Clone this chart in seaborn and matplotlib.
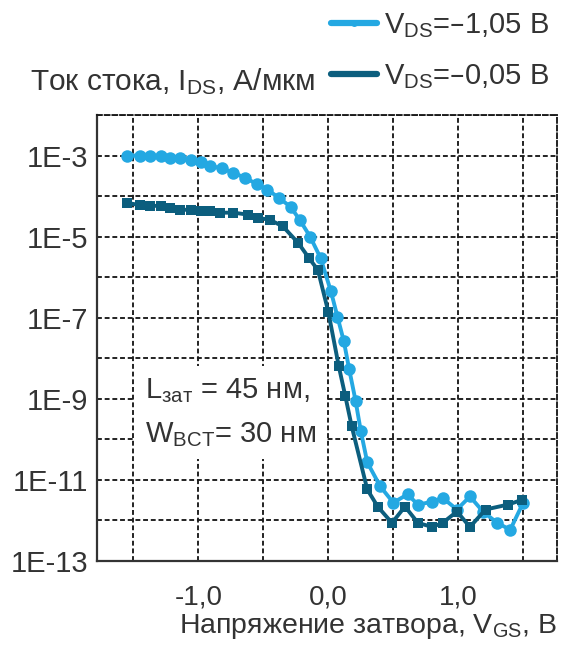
import matplotlib
matplotlib.use('Agg')
import matplotlib.pyplot as plt
import seaborn as sns
import pandas as pd

# V_DS = -1,05 V (circles)
vgs_hi = [-1.55, -1.45, -1.37, -1.29, -1.22, -1.14, -1.06, -0.98, -0.91, -0.82,
          -0.73, -0.64, -0.55, -0.47, -0.38, -0.29, -0.22, -0.14, -0.06, 0.02,
          0.07, 0.12, 0.16, 0.21, 0.25, 0.30, 0.40, 0.50, 0.61, 0.69,
          0.80, 0.88, 0.99, 1.09, 1.19, 1.30, 1.40, 1.50]
ids_hi = [1.0e-3, 1.0e-3, 9.5e-4, 9.5e-4, 8.9e-4, 8.5e-4, 7.6e-4, 6.8e-4, 5.6e-4, 4.8e-4,
          3.8e-4, 2.8e-4, 2.0e-4, 1.45e-4, 9.1e-5, 5.4e-5, 2.6e-5, 1.0e-5, 3.0e-6, 4.5e-7,
          1.07e-7, 2.6e-8, 5.5e-9, 8.9e-10, 1.6e-10, 2.7e-11, 6.9e-12, 2.75e-12, 4.4e-12, 2.45e-12,
          2.9e-12, 3.6e-12, 1.86e-12, 3.9e-12, 1.66e-12, 8.7e-13, 5.9e-13, 2.75e-12]

# V_DS = -0,05 V (squares)
vgs_lo = [-1.55, -1.45, -1.37, -1.29, -1.22, -1.14, -1.06, -0.98, -0.91, -0.83,
          -0.73, -0.62, -0.54, -0.45, -0.35, -0.23, -0.15, -0.08, 0.00, 0.08,
          0.13, 0.18, 0.30, 0.38, 0.49, 0.59, 0.69, 0.80, 0.88, 0.99,
          1.09, 1.21, 1.38, 1.49]
ids_lo = [6.8e-5, 6.0e-5, 5.75e-5, 5.75e-5, 5.1e-5, 4.6e-5, 4.6e-5, 4.4e-5, 4.4e-5, 3.9e-5,
          3.9e-5, 3.5e-5, 2.9e-5, 2.6e-5, 1.8e-5, 6.9e-6, 3.0e-6, 1.5e-6, 1.4e-7, 6.5e-9,
          1.2e-9, 2.1e-10, 5.8e-12, 2.2e-12, 8.7e-13, 2.2e-12, 8.7e-13, 6.9e-13, 8.7e-13, 1.66e-12,
          6.9e-13, 1.86e-12, 2.45e-12, 3.2e-12]

series = ['$V_{DS}$=–1,05 В', '$V_{DS}$=–0,05 В']
colors = ['#24a8e2', '#0c5e7e']

ytick_vals = [1e-13, 1e-12, 1e-11, 1e-10, 1e-9, 1e-8, 1e-7, 1e-6, 1e-5, 1e-4, 1e-3, 1e-2]
ytick_labels = ['1E-13', '', '1E-11', '', '1E-9', '', '1E-7', '', '1E-5', '', '1E-3', '']
xtick_vals = [-1.5, -1.0, -0.5, 0.0, 0.5, 1.0, 1.5]
xtick_labels = ['', '-1,0', '', '0,0', '', '1,0', '']

df = pd.concat([
    pd.DataFrame({'vgs': vgs_hi, 'ids': ids_hi, 'curve': series[0]}),
    pd.DataFrame({'vgs': vgs_lo, 'ids': ids_lo, 'curve': series[1]}),
])

sns.set_style('white')
plt.rcParams['font.family'] = ['Liberation Sans Narrow', 'Liberation Sans', 'DejaVu Sans']
plt.rcParams['mathtext.default'] = 'regular'
txt = '#333333'

fig = plt.figure(figsize=(5.64, 6.61), dpi=100)
ax = fig.add_axes([0.172, 0.1513, 0.8156, 0.6747])

grid_ls = (0, (2.6, 1.5))
sns.lineplot(data=df, x='vgs', y='ids', hue='curve', style='curve',
             hue_order=series, style_order=series, palette=colors,
             markers=['o', 's'], dashes=False, estimator=None, sort=False,
             linewidth=2.8, markersize=9, markeredgewidth=0, ax=ax)
# squares look bigger than circles at the same size
ax.lines[1].set_markersize(7.4)

ax.set_yscale('log')
ax.set_ylim(1e-13, 1e-2)
ax.set_xlim(-1.78, 1.76)
ax.set_yticks(ytick_vals)
ax.set_yticklabels(ytick_labels)
ax.set_xticks(xtick_vals)
ax.set_xticklabels(xtick_labels)
ax.minorticks_off()

ax.set_axisbelow(True)
ax.grid(True, color='#1a1a1a', linestyle=grid_ls, linewidth=1.35)
for side in ['top', 'right']:
    ax.spines[side].set_linestyle(grid_ls)
    ax.spines[side].set_linewidth(1.35)
    ax.spines[side].set_color('#1a1a1a')
for side in ['left', 'bottom']:
    ax.spines[side].set_linewidth(1.6)
    ax.spines[side].set_color(txt)

ax.tick_params(axis='y', direction='inout', length=9, width=1.5, color=txt,
               labelsize=21, pad=2, labelcolor=txt)
ax.tick_params(axis='x', direction='inout', length=16, width=1.5, color=txt,
               labelsize=20, pad=9, labelcolor=txt)

ax.set_ylabel('')
ax.set_xlabel('Напряжение затвора, $V_{GS}$, В', loc='right', fontsize=20.5,
              color=txt, labelpad=1)

fig.text(0.053, 0.877, 'Ток стока, $I_{DS}$, А/мкм', fontsize=21.5, va='center',
         color=txt)

ax.text(0.104, 0.333, '$L_{зат}$ = 45 нм,\n$W_{ВСТ}$= 30 нм', transform=ax.transAxes,
        fontsize=21, va='center', ha='left', color=txt, linespacing=1.7,
        bbox=dict(facecolor='white', edgecolor='none', pad=7))

handles, labels = ax.get_legend_handles_labels()
leg = ax.legend(handles, labels, loc='upper right', bbox_to_anchor=(0.995, 1.0),
                bbox_transform=fig.transFigure, frameon=False, fontsize=21,
                handlelength=1.6, handletextpad=0.25, labelspacing=0.75,
                borderaxespad=0, labelcolor=txt)
for h in leg.legend_handles:
    h.set_linewidth(4.5)
    h.set_markersize(5)

fig.savefig('out.png', dpi=100)
